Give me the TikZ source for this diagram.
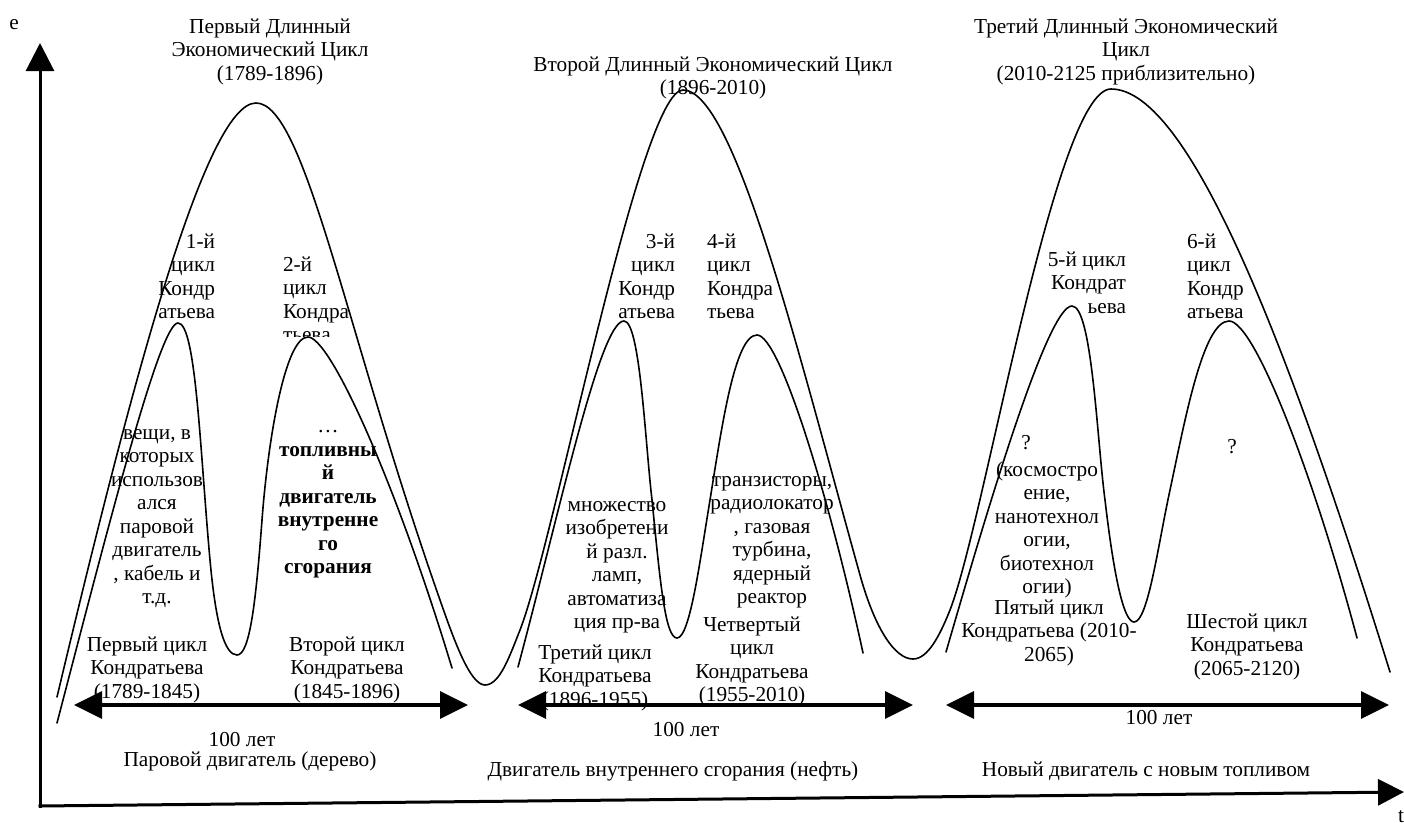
\documentclass[tikz,border=0pt]{standalone}
\usepackage{fontspec}
\setmainfont{Liberation Serif}
\usetikzlibrary{arrows.meta}
\newcommand\myfs{\fontsize{21.3}{23.5}\selectfont}
\tikzset{
  txt/.style={inner sep=0pt, outer sep=0pt, anchor=north, font=\myfs, align=center},
  txtr/.style={txt, anchor=north east, align=right},
  txtl/.style={txt, anchor=north west, align=left},
  curve/.style={line width=1.6pt, line join=round, line cap=round},
  axis/.style={line width=3pt},
  span/.style={line width=3.5pt, {Triangle[length=28pt,width=27pt]}-{Triangle[length=28pt,width=27pt]}},
}
\begin{document}
\begin{tikzpicture}[x=1pt,y=-1pt]
\fill[white] (0,0) rectangle (1404,822);
\useasboundingbox (0,0) rectangle (1404,822);

% axes
\coordinate (Ytop) at (40,43);
\coordinate (Xend) at (1404,792);
\draw[axis, -{Triangle[length=28pt,width=28pt]}] (40,807.5) -- (Ytop);
\draw[axis, -{Triangle[length=26pt,width=26pt]}] (38.5,806) -- (Xend);
\node[txt] (lblE) at (14,13) {\strut e};
\node[txt] (lblT) at (1401,806) {\strut t};

% big wave (long cycles)
\draw[curve] (57,697) .. controls (130,390) and (205,103) .. (256,103)
  .. controls (305,103) and (345,330) .. (440,600)
  .. controls (454,640) and (470,685) .. (485,685)
  .. controls (500,685) and (510,655) .. (520,630)
  .. controls (555,540) and (640,90) .. (683,90)
  .. controls (735,90) and (800,360) .. (860,575)
  .. controls (875,629) and (895,659) .. (913,659)
  .. controls (928,659) and (940,635) .. (950,610)
  .. controls (985,520) and (1055,89) .. (1111,89)
  .. controls (1190,89) and (1290,350) .. (1390,672);

% small waves (Kondratiev cycles)
\draw[curve] (57,723) .. controls (110,520) and (160,323) .. (178,323)
  .. controls (196,323) and (200,450) .. (210,560)
  .. controls (216,626) and (225,655) .. (237,655)
  .. controls (250,655) and (256,600) .. (262,520)
  .. controls (268,440) and (285,337) .. (308,337)
  .. controls (330,337) and (395,480) .. (452,668);
\draw[curve] (518,667) .. controls (560,510) and (600,321) .. (624,321)
  .. controls (640,321) and (645,440) .. (652,500)
  .. controls (660,580) and (665,638) .. (677,638)
  .. controls (690,638) and (700,560) .. (710,500)
  .. controls (722,425) and (735,335) .. (757,335)
  .. controls (780,335) and (830,500) .. (863,653);
\draw[curve] (946,652) .. controls (990,500) and (1048,306) .. (1072,306)
  .. controls (1092,306) and (1097,440) .. (1105,500)
  .. controls (1112,560) and (1122,622) .. (1134,622)
  .. controls (1148,622) and (1158,545) .. (1170,490)
  .. controls (1185,420) and (1203,321) .. (1229,321)
  .. controls (1255,321) and (1315,480) .. (1357,638);

% titles
\node[txt] (t1) at (270,17) {\strut Первый Длинный\\Экономический Цикл\\(1789-1896)};
\node[txt] (t2) at (713,55) {\strut Второй Длинный Экономический Цикл\\(1896-2010)};
\node[txt] (t3) at (1126,17) {\strut Третий Длинный Экономический\\Цикл\\(2010-2125 приблизительно)};

% cycle labels
\node[txtr] (k1) at (215,232) {\strut 1-й\\цикл\\Кондр\\атьева};
\begin{scope}
\clip (270,240) rectangle (420,336);
\node[txtl] (k2) at (283,255) {\strut 2-й\\цикл\\Кондра\\тьева};
\end{scope}
\node[txtr] (k3) at (675,232) {\strut 3-й\\цикл\\Кондр\\атьева};
\node[txtl] (k4) at (707,232) {\strut 4-й\\цикл\\Кондра\\тьева};
\node[txtr] (k5) at (1126,250) {\strut 5-й цикл\\Кондрат\\ьева};
\node[txtl] (k6) at (1187,232) {\strut 6-й\\цикл\\Кондр\\атьева};

% descriptions
\node[txt] (d1) at (157,423) {\strut вещи, в\\которых\\использов\\ался\\паровой\\двигатель\\, кабель и\\т.д.};
\node[txt] (d2) at (328,416.5) {\strut …\\\textbf{топливны}\\\textbf{й}\\\textbf{двигатель}\\\textbf{внутренне}\\\textbf{го}\\\textbf{сгорания}};
\node[txt] (d3) at (617,495) {\strut множество\\изобретени\\й разл.\\ламп,\\автоматиза\\ция пр-ва};
\node[txt] (d4) at (772,470) {\strut транзисторы,\\радиолокатор\\, газовая\\турбина,\\ядерный\\реактор};
\node[txt] (q5) at (1026,433) {\strut ?};
\node[txt] (d5) at (1047,460) {\strut (космостро\\ение,\\нанотехнол\\огии,\\биотехнол\\огии)};
\node[txt] (q6) at (1232,437) {\strut ?};

% cycle names
\node[txt] (f1) at (147,635) {\strut Первый цикл\\Кондратьева\\(1789-1845)};
\node[txt] (f2) at (347,635) {\strut Второй цикл\\Кондратьева\\(1845-1896)};
\node[txt] (f3) at (595,643) {\strut Третий цикл\\Кондратьева\\(1896-1955)};
\node[txt] (f4) at (752,615) {\strut Четвертый\\цикл\\Кондратьева\\(1955-2010)};
\node[txt] (f5) at (1049,598) {\strut Пятый цикл\\Кондратьева (2010-\\2065)};
\node[txt] (f6) at (1247,612) {\strut Шестой цикл\\Кондратьева\\(2065-2120)};

% spans
\coordinate (s1a) at (74,705); \coordinate (s1b) at (468,705);
\coordinate (s2a) at (518,705); \coordinate (s2b) at (913,705);
\coordinate (s3a) at (946,705); \coordinate (s3b) at (1389,705);
\draw[span] (s1a) -- (s1b);
\draw[span] (s2a) -- (s2b);
\draw[span] (s3a) -- (s3b);
\node[txt] (y1) at (242,730) {\strut 100 лет};
\node[txt] (e1) at (250,750) {\strut Паровой двигатель (дерево)};
\node[txt] (y2) at (686,720) {\strut 100 лет};
\node[txt] (e2) at (673,760) {\strut Двигатель внутреннего сгорания (нефть)};
\node[txt] (y3) at (1159,708) {\strut 100 лет};
\node[txt] (e3) at (1146,760) {\strut Новый двигатель с новым топливом};
\end{tikzpicture}
\end{document}
